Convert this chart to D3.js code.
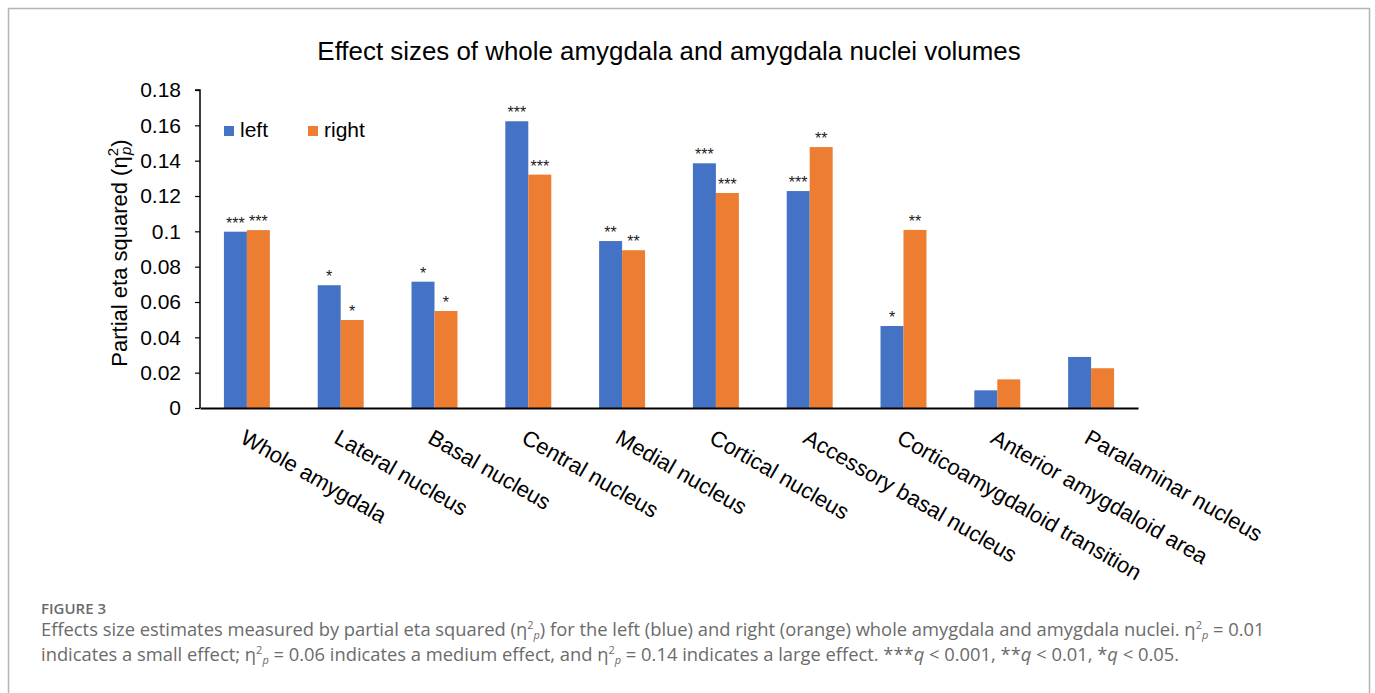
<!DOCTYPE html>
<html>
<head>
<meta charset="utf-8">
<script src="https://cdn.jsdelivr.net/npm/d3@7"></script>
<style>
  body { margin: 0; background: #fff; }
  svg { display: block; }
</style>
</head>
<body>
<svg id="fig" width="1375" height="693"></svg>
<script>
// Amygdala regions and partial eta squared per hemisphere
const categories = [
  "Whole amygdala", "Lateral nucleus", "Basal nucleus", "Central nucleus",
  "Medial nucleus", "Cortical nucleus", "Accessory basal nucleus",
  "Corticoamygdaloid transition", "Anterior amygdaloid area", "Paralaminar nucleus"
];
const seriesNames = ["left", "right"];
const leftValues  = [0.0998, 0.0695, 0.0715, 0.1623, 0.0945, 0.1385, 0.1228, 0.0464, 0.0100, 0.0289];
const rightValues = [0.1007, 0.0498, 0.0549, 0.1321, 0.0893, 0.1217, 0.1477, 0.1008, 0.0162, 0.0225];
const leftStars   = ["***", "*", "*", "***", "**", "***", "***", "*", "", ""];
const rightStars  = ["***", "*", "*", "***", "**", "***", "**", "**", "", ""];
const yTicks = [0, 0.02, 0.04, 0.06, 0.08, 0.1, 0.12, 0.14, 0.16, 0.18];
const colors = { left: "#4472C4", right: "#ED7D31" };

const svg = d3.select("#fig");
const FONT = "'Liberation Sans', Arial, sans-serif";

// frame around the figure panel
svg.append("path")
  .attr("d", "M8.5,700 V8.5 H1369.5 V700")
  .attr("fill", "none").attr("stroke", "#b4b4b4").attr("stroke-width", 1.5);

const plot = { left: 200, right: 1138, top: 90, bottom: 408 };

const x = d3.scaleBand().domain(categories)
  .range([plot.left, plot.right]).paddingInner(0.51).paddingOuter(0.255);
const xs = d3.scaleBand().domain(seriesNames).range([0, x.bandwidth()]);
const y = d3.scaleLinear().domain([0, 0.18]).range([plot.bottom, plot.top]);

const rows = categories.map((c, i) => ({
  cat: c,
  vals: [
    { key: "left", v: leftValues[i], star: leftStars[i] },
    { key: "right", v: rightValues[i], star: rightStars[i] }
  ]
}));

// title
svg.append("text")
  .attr("x", 669).attr("y", 60)
  .attr("text-anchor", "middle")
  .style("font-family", FONT).style("font-size", "25.9px").attr("fill", "#000")
  .text("Effect sizes of whole amygdala and amygdala nuclei volumes");

// bars
const groups = svg.append("g").selectAll("g").data(rows).join("g")
  .attr("transform", d => `translate(${x(d.cat)},0)`);

groups.selectAll("rect").data(d => d.vals).join("rect")
  .attr("x", d => xs(d.key))
  .attr("y", d => y(d.v))
  .attr("width", xs.bandwidth())
  .attr("height", d => y(0) - y(d.v))
  .attr("fill", d => colors[d.key]);

// significance stars
groups.selectAll("text.star").data(d => d.vals.filter(v => v.star)).join("text")
  .attr("class", "star")
  .attr("x", d => xs(d.key) + xs.bandwidth() / 2)
  .attr("y", d => y(d.v) - 3)
  .attr("text-anchor", "middle")
  .style("font-family", FONT).style("font-size", "16px").attr("fill", "#1a1a1a")
  .text(d => d.star);

// y axis
const yAxis = svg.append("g")
  .attr("transform", `translate(${plot.left},0)`)
  .call(d3.axisLeft(y).tickValues(yTicks).tickSize(5).tickPadding(14).tickFormat(d => String(d)));
yAxis.select(".domain").attr("stroke", "#000").attr("stroke-width", 1.5)
  .attr("d", `M-5,${plot.top}H0V${plot.bottom}`);
yAxis.selectAll(".tick line").attr("stroke", "#000").attr("stroke-width", 1.2);
yAxis.selectAll(".tick text")
  .style("font-family", FONT).style("font-size", "21px").attr("fill", "#000");

// x axis baseline and rotated category labels
const xAxis = svg.append("g")
  .attr("transform", `translate(0,${plot.bottom})`)
  .call(d3.axisBottom(x).tickSize(0).tickFormat(""));
xAxis.select(".domain").attr("stroke", "#000").attr("stroke-width", 1.8);

svg.append("g").selectAll("text").data(categories).join("text")
  .attr("transform", d => `translate(${x(d) + x.bandwidth() / 2 - 8},${plot.bottom + 34}) rotate(30)`)
  .attr("text-anchor", "start")
  .style("font-family", FONT).style("font-size", "22px").attr("fill", "#000")
  .text(d => d);

// y axis title with eta-squared notation
const yt = svg.append("text")
  .attr("transform", "translate(127,253) rotate(-90)")
  .attr("text-anchor", "middle")
  .style("font-family", FONT).style("font-size", "22px").attr("fill", "#000");
yt.append("tspan").text("Partial eta squared (η");
yt.append("tspan").attr("dy", -9).style("font-size", "15px").text("2");
yt.append("tspan").attr("dx", -7).attr("dy", 13).style("font-size", "15px").style("font-style", "italic").text("p");
yt.append("tspan").attr("dy", -4).text(")");

// legend
const legend = svg.append("g").selectAll("g").data(seriesNames).join("g")
  .attr("transform", (d, i) => `translate(${224 + i * 84},126)`);
legend.append("rect").attr("width", 10).attr("height", 10).attr("fill", d => colors[d]);
legend.append("text").attr("x", 16).attr("y", 11)
  .style("font-family", FONT).style("font-size", "21px").attr("fill", "#000")
  .text(d => d);

// figure caption
const CAP = "'Open Sans', 'Noto Sans', sans-serif";
svg.append("text").attr("x", 41).attr("y", 614)
  .style("font-family", CAP).style("font-size", "15px").style("font-weight", "600")
  .attr("fill", "#6b6b6b").text("FIGURE 3");

function captionLine(yPos, parts) {
  const t = svg.append("text").attr("x", 41).attr("y", yPos)
    .style("font-family", CAP).style("font-size", "17px").attr("fill", "#6b6b6b");
  parts.forEach(p => {
    const s = t.append("tspan").text(p.t);
    if (p.sup) s.attr("dy", -7).style("font-size", "11px");
    if (p.sub) s.attr("dy", 10).style("font-size", "11px").style("font-style", "italic");
    if (p.back) s.attr("dy", -3);
    if (p.it) s.style("font-style", "italic");
  });
  return t;
}
const line1 = captionLine(636, [
  { t: "Effects size estimates measured by partial eta squared (η" },
  { t: "2", sup: true }, { t: "p", sub: true },
  { t: ") for the left (blue) and right (orange) whole amygdala and amygdala nuclei. η", back: true },
  { t: "2", sup: true }, { t: "p", sub: true },
  { t: " = 0.01", back: true }
]);
const line2 = captionLine(661, [
  { t: "indicates a small effect; η" },
  { t: "2", sup: true }, { t: "p", sub: true },
  { t: " = 0.06 indicates a medium effect, and η", back: true },
  { t: "2", sup: true }, { t: "p", sub: true },
  { t: " = 0.14 indicates a large effect. ***", back: true },
  { t: "q", it: true }, { t: " < 0.001, **" }, { t: "q", it: true },
  { t: " < 0.01, *" }, { t: "q", it: true }, { t: " < 0.05." }
]);
// fit caption width to the panel text column
const w1 = line1.node().getComputedTextLength();
const fs = 17 * 1226 / w1;
[line1, line2].forEach(l => l.style("font-size", fs + "px"));
</script>
</body>
</html>
